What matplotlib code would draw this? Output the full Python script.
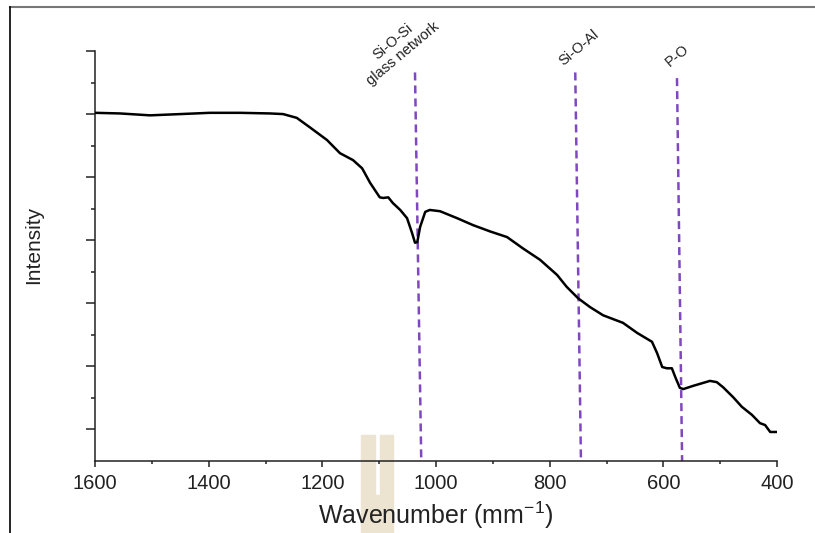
import matplotlib.pyplot as plt
from matplotlib.lines import Line2D
from matplotlib.patches import Rectangle

plt.rcParams['font.family'] = ['Liberation Sans', 'DejaVu Sans']
plt.rcParams['mathtext.fontset'] = 'custom'
plt.rcParams['mathtext.rm'] = 'Liberation Sans'
plt.rcParams['mathtext.it'] = 'Liberation Sans:italic'
plt.rcParams['mathtext.bf'] = 'Liberation Sans:bold'

# spectrum (wavenumber, intensity in arbitrary units)
wavenumber = [1600, 1556, 1503, 1450, 1398, 1345, 1292, 1269, 1245, 1222,
              1192, 1169, 1146, 1130, 1116, 1099, 1093, 1084, 1076, 1063,
              1051, 1042, 1037, 1033, 1028, 1019, 1011, 993, 963, 935,
              905, 875, 847, 817, 787, 770, 750, 729, 706, 671,
              646, 620, 611, 602, 594, 585, 579, 571, 565, 548,
              518, 506, 495, 477, 462, 444, 430, 421, 412, 400]
intensity = [5.52, 5.51, 5.48, 5.50, 5.52, 5.52, 5.51, 5.50, 5.44, 5.29,
             5.09, 4.88, 4.77, 4.64, 4.41, 4.18, 4.17, 4.18, 4.09, 3.98,
             3.85, 3.61, 3.46, 3.47, 3.71, 3.95, 3.98, 3.96, 3.85, 3.74,
             3.64, 3.55, 3.37, 3.19, 2.95, 2.76, 2.58, 2.44, 2.31, 2.19,
             2.03, 1.89, 1.71, 1.49, 1.47, 1.47, 1.33, 1.16, 1.14, 1.19,
             1.27, 1.25, 1.17, 1.01, 0.86, 0.73, 0.60, 0.57, 0.46, 0.46]

# band markers (the dashed lines lean slightly in the original scan)
band_labels = ['Si-O-Si\nglass network', 'Si-O-Al', 'P-O']
band_top_x = [1037, 755, 576]
band_bottom_x = [1026, 745, 567]
band_top_y = [6.16, 6.16, 6.07]
label_x = [1067, 748, 576]
label_y = [6.55, 6.55, 6.42]

xticks = [1600, 1400, 1200, 1000, 800, 600, 400]

fig = plt.figure(figsize=(8.15, 5.33), dpi=100)
ax = fig.add_axes([0.1166, 0.1351, 0.8368, 0.7692])
ax.patch.set_facecolor('none')

ax.plot(wavenumber, intensity, color='black', lw=1.8, zorder=3,
        solid_joinstyle='round')

for xt, xb, yt in zip(band_top_x, band_bottom_x, band_top_y):
    ax.plot([xt, xb], [yt, 0], color='#8048c0', lw=1.8, dashes=(3.2, 2.0),
            zorder=2, clip_on=False)

for lab, lx, ly in zip(band_labels, label_x, label_y):
    ax.text(lx, ly, lab, rotation=40, ha='center', va='center',
            rotation_mode='anchor', multialignment='center',
            fontsize=10.5, color='#222222', clip_on=False)

ax.set_xlim(1600, 400)
ax.set_ylim(0, 6.5)
ax.set_xticks(xticks)
ax.set_xticks(range(1500, 400, -200), minor=True)
ax.set_yticks([0.5 + i for i in range(7)])
ax.set_yticks([1 + i for i in range(6)], minor=True)
ax.set_yticklabels([])

for s in ['top', 'right']:
    ax.spines[s].set_visible(False)
for s in ['left', 'bottom']:
    ax.spines[s].set_linewidth(1.1)
    ax.spines[s].set_color('#222222')

ax.tick_params(axis='x', which='major', length=4.3, width=1.1,
               labelsize=14.5, colors='#222222', pad=5)
ax.tick_params(axis='x', which='minor', length=2.5, width=1.1, colors='#222222')
ax.tick_params(axis='y', which='major', length=6.5, width=1.1, colors='#222222')
ax.tick_params(axis='y', which='minor', length=3.2, width=1.1, colors='#222222')

ax.set_xlabel('Wavenumber (mm$^{-1}$)', fontsize=18, color='#222222', labelpad=5)
ax.set_ylabel('Intensity', fontsize=15, color='#222222')
ax.yaxis.set_label_coords(-0.076, 0.527)

# scan frame lines
fig.add_artist(Line2D([0.0123, 1.0], [0.9869, 0.9869], color='#777777', lw=1.5))
fig.add_artist(Line2D([0.0123, 0.0123], [0.0, 0.9869], color='black', lw=1.2))

# faint watermark in the scan
wm = '#ece3d1'
fig.add_artist(Rectangle((361 / 815, 0), 14 / 815, 98 / 533, color=wm, zorder=-1))
fig.add_artist(Rectangle((380 / 815, 0), 13 / 815, 98 / 533, color=wm, zorder=-1))
fig.add_artist(Rectangle((375 / 815, 0), 5 / 815, 38 / 533, color=wm, zorder=-1))

fig.savefig('out.png', dpi=100)
